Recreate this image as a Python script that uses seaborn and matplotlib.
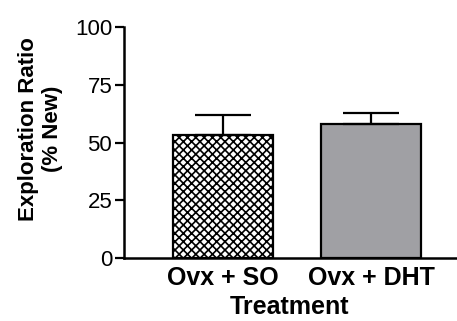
import pandas as pd
import matplotlib
matplotlib.use('Agg')
import matplotlib.pyplot as plt
import seaborn as sns

# Values
groups = ['Ovx + SO', 'Ovx + DHT']
means = [53.2, 58.1]
sem = [8.8, 4.8]
y_ticks = [0, 25, 50, 75, 100]

df = pd.DataFrame({'Treatment': groups, 'Ratio': means})

sns.set_style('ticks', {'text.color': 'black', 'axes.labelcolor': 'black',
                        'xtick.color': 'black', 'ytick.color': 'black',
                        'axes.edgecolor': 'black'})
plt.rcParams['font.family'] = ['Liberation Sans', 'DejaVu Sans']
plt.rcParams['hatch.linewidth'] = 1.2

fig = plt.figure(figsize=(4.57, 3.21), dpi=100)
ax = fig.add_axes([0.2713, 0.196, 0.7265, 0.72])

sns.barplot(x='Treatment', y='Ratio', data=df, hue='Treatment',
            palette=['white', '#a0a0a4'], width=0.676, legend=False,
            edgecolor='black', linewidth=1.6, ax=ax, errorbar=None)

# crosshatch the first bar
ax.patches[0].set_hatch('xxxx')

# upper-only error bars
ax.errorbar(range(len(groups)), means, yerr=[[0] * len(sem), sem],
            fmt='none', ecolor='black', elinewidth=1.6, capsize=20,
            capthick=1.6, zorder=1)

ax.set_xlim(-0.669, 1.574)
ax.set_ylim(0, 100)
ax.set_yticks(y_ticks)
ax.tick_params(axis='y', length=6.5, width=1.6, labelsize=16, pad=2)
ax.tick_params(axis='x', length=0, labelsize=18, pad=6)
for lab in ax.get_xticklabels():
    lab.set_fontweight('bold')

ax.set_xlabel('Treatment', fontsize=18, fontweight='bold', labelpad=3)
ax.set_ylabel('Exploration Ratio\n(% New)', fontsize=16, fontweight='bold',
              linespacing=1.15)
ax.yaxis.set_label_coords(-0.185, 0.56)

sns.despine(ax=ax)
ax.spines['left'].set_linewidth(1.8)
ax.spines['bottom'].set_linewidth(1.8)

fig.savefig('out.png', dpi=100)
